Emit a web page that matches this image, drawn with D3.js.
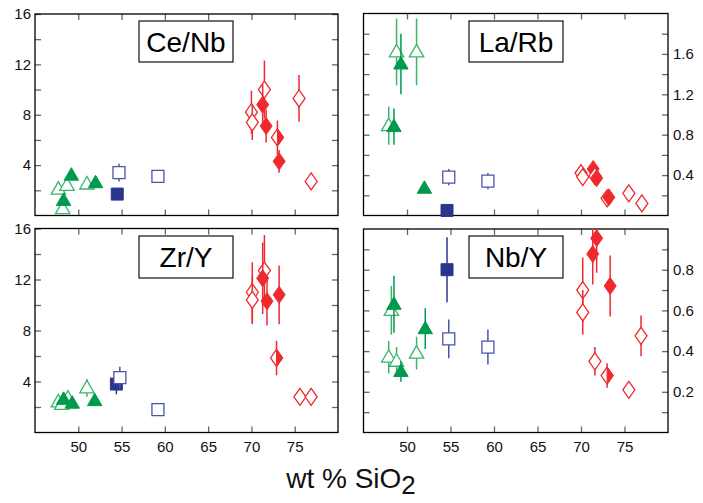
<!DOCTYPE html>
<html><head><meta charset="utf-8">
<script src="https://cdn.jsdelivr.net/npm/d3@7"></script>
<style>
html,body{margin:0;padding:0;background:#fff;}
svg{display:block;font-family:"Liberation Sans",Arial,sans-serif;}
</style></head>
<body>
<svg id="c" width="703" height="503"></svg>
<script>
// ---- data: [marker, SiO2 wt%, ratio, error(±)] ----
const xTicks = [50, 55, 60, 65, 70, 75];
const xLabel = "wt % SiO";

const ceNbTicksMajor = [4, 8, 12, 16];
const ceNbTicksMinor = [2, 6, 10, 14];
const ceNbData = [
  ["triOpen", 47.7, 2.1, 0], ["triOpen", 48.7, 2.4, 0], ["triOpen", 51.0, 2.5, 0], ["triOpen", 48.2, 0.55, 0],
  ["triFill", 49.2, 3.2, 0], ["triFill", 52.0, 2.6, 0], ["triFill", 48.3, 1.2, 0],
  ["sqOpen", 54.7, 3.4, 0.7], ["sqOpen", 59.2, 3.1, 0.5], ["sqFill", 54.5, 1.7, 0],
  ["diaOpen", 70.0, 8.2, 1.7], ["diaOpen", 70.1, 7.4, 1.4], ["diaOpen", 71.5, 10.0, 2.3],
  ["diaOpen", 75.5, 9.3, 1.85], ["diaOpen", 76.9, 2.7, 0],
  ["diaFill", 71.3, 8.8, 1.6], ["diaFill", 71.7, 7.1, 1.3], ["diaFill", 73.2, 4.3, 0.9],
  ["diaHalf", 73.0, 6.2, 1.35]
];

const laRbTicksMajor = [0.4, 0.8, 1.2, 1.6];
const laRbTicksMinor = [0.2, 0.6, 1.0, 1.4, 1.8];
const laRbData = [
  ["triOpen", 48.8, 1.62, 0.33], ["triOpen", 51.1, 1.62, 0.33], ["triOpen", 47.9, 0.89, 0.19],
  ["triFill", 49.3, 1.50, 0.30], ["triFill", 48.5, 0.88, 0.18], ["triFill", 52.0, 0.27, 0],
  ["sqOpen", 54.8, 0.38, 0.08], ["sqOpen", 59.3, 0.34, 0.08], ["sqFill", 54.6, 0.05, 0],
  ["diaOpen", 70.0, 0.42, 0], ["diaOpen", 70.2, 0.38, 0], ["diaFill", 71.4, 0.46, 0],
  ["diaOpen", 71.6, 0.39, 0], ["diaFill", 71.8, 0.37, 0],
  ["diaOpen", 73.0, 0.17, 0], ["diaFill", 73.2, 0.18, 0],
  ["diaOpen", 75.5, 0.22, 0], ["diaOpen", 77.0, 0.12, 0]
];

const zrYTicksMajor = [4, 8, 12, 16];
const zrYTicksMinor = [2, 6, 10, 14];
const zrYData = [
  ["triOpen", 47.7, 2.4, 0], ["triOpen", 48.8, 2.7, 0], ["triOpen", 48.1, 2.2, 0], ["triOpen", 51.0, 3.5, 0.7],
  ["triFill", 48.3, 2.6, 0], ["triFill", 49.3, 2.3, 0], ["triFill", 51.9, 2.5, 0],
  ["sqFill", 54.4, 3.8, 0.8], ["sqOpen", 54.8, 4.3, 0.85], ["sqOpen", 59.2, 1.8, 0],
  ["diaOpen", 70.1, 11.0, 2.35], ["diaOpen", 70.1, 10.4, 1.9], ["diaOpen", 71.5, 12.7, 2.8],
  ["diaOpen", 75.6, 2.8, 0], ["diaOpen", 76.9, 2.8, 0],
  ["diaFill", 71.3, 12.1, 2.8], ["diaFill", 71.8, 10.3, 1.9], ["diaFill", 73.2, 10.8, 2.3],
  ["diaHalf", 72.9, 5.85, 1.35]
];

const nbYTicksMajor = [0.2, 0.4, 0.6, 0.8];
const nbYTicksMinor = [0.1, 0.3, 0.5, 0.7, 0.9];
const nbYData = [
  ["triOpen", 48.2, 0.60, 0.12], ["triOpen", 47.9, 0.37, 0.08], ["triOpen", 48.8, 0.35, 0.07], ["triOpen", 51.1, 0.39, 0.08],
  ["triFill", 48.5, 0.63, 0.14], ["triFill", 49.3, 0.30, 0.05], ["triFill", 52.1, 0.51, 0.10],
  ["sqFill", 54.6, 0.80, 0.16], ["sqOpen", 54.8, 0.46, 0.095], ["sqOpen", 59.3, 0.42, 0.086],
  ["diaOpen", 70.2, 0.70, 0.16], ["diaOpen", 70.2, 0.59, 0.11], ["diaOpen", 71.6, 0.35, 0.07],
  ["diaOpen", 75.5, 0.21, 0], ["diaOpen", 76.9, 0.475, 0.10],
  ["diaFill", 71.8, 0.955, 0.17], ["diaFill", 71.35, 0.877, 0.15], ["diaFill", 73.35, 0.72, 0.15],
  ["diaHalf", 73.0, 0.28, 0.06]
];

// ---- styles ----
const COL = {
  triOpen: "#3cb46e", triFill: "#009a4e",
  sqOpen: "#4a55a8", sqFill: "#2b3590",
  diaOpen: "#ee2a2e", diaFill: "#ee2a2e", diaHalf: "#ee2a2e"
};
const SHAPE = {
  tri: "M0,-7.5L7.2,5L-7.2,5Z",
  sq: "M-6,-6H6V6H-6Z",
  dia: "M0,-8.5L6,0L0,8.5L-6,0Z",
  diaRight: "M0,-8.5L6,0L0,8.5Z"
};

const svg = d3.select("#c");

const panels = [
  {title: "Ce/Nb", data: ceNbData, yDom: [0, 16], maj: ceNbTicksMajor, min: ceNbTicksMinor,
   left: 35, right: 338, top: 14, bottom: 215.5, side: "left", xlab: false, fmt: d3.format("d"),
   box: [139, 21, 94, 41]},
  {title: "La/Rb", data: laRbData, yDom: [0, 2], maj: laRbTicksMajor, min: laRbTicksMinor,
   left: 363.5, right: 668, top: 13.5, bottom: 215.5, side: "right", xlab: false, fmt: d3.format(".1f"),
   box: [469, 21, 94, 41]},
  {title: "Zr/Y", data: zrYData, yDom: [0, 16], maj: zrYTicksMajor, min: zrYTicksMinor,
   left: 35, right: 338, top: 228.5, bottom: 432.5, side: "left", xlab: true, fmt: d3.format("d"),
   box: [139, 236, 94, 42]},
  {title: "Nb/Y", data: nbYData, yDom: [0, 1], maj: nbYTicksMajor, min: nbYTicksMinor,
   left: 363.5, right: 668, top: 229, bottom: 432.5, side: "right", xlab: true, fmt: d3.format(".1f"),
   box: [469, 236, 94, 42]}
];

const tickCol = "#666";

panels.forEach((p, i) => {
  const x = d3.scaleLinear().domain([45, 80]).range([p.left, p.right]);
  const y = d3.scaleLinear().domain(p.yDom).range([p.bottom, p.top]);
  const g = svg.append("g");

  const cid = "clip" + i;
  svg.append("clipPath").attr("id", cid).append("rect")
    .attr("x", p.left).attr("y", p.top).attr("width", p.right - p.left).attr("height", p.bottom - p.top);

  const allY = p.maj.concat(p.min).sort(d3.ascending);
  const styleAxis = a => {
    a.select(".domain").remove();
    a.selectAll(".tick line").attr("stroke", tickCol).attr("stroke-width", 1.3);
    a.selectAll(".tick text").attr("fill", "#111").style("font-size", "15px")
      .style("font-family", '"Liberation Sans",Arial,sans-serif');
  };

  const yl = g.append("g").attr("transform", `translate(${p.left},0)`)
    .call(d3.axisLeft(y).tickValues(allY).tickSize(-6).tickPadding(4)
      .tickFormat(d => (p.side === "left" && p.maj.includes(d)) ? p.fmt(d) : ""));
  styleAxis(yl);
  const yr = g.append("g").attr("transform", `translate(${p.right},0)`)
    .call(d3.axisRight(y).tickValues(allY).tickSize(-6).tickPadding(5)
      .tickFormat(d => (p.side === "right" && p.maj.includes(d)) ? p.fmt(d) : ""));
  styleAxis(yr);

  const xt = g.append("g").attr("transform", `translate(0,${p.top})`)
    .call(d3.axisTop(x).tickValues(xTicks).tickSize(-6).tickFormat(""));
  styleAxis(xt);
  const xb = g.append("g").attr("transform", `translate(0,${p.bottom})`)
    .call(d3.axisBottom(x).tickValues(xTicks).tickSize(-6).tickPadding(9)
      .tickFormat(d => p.xlab ? d3.format("d")(d) : ""));
  styleAxis(xb);

  g.append("rect").attr("x", p.left).attr("y", p.top)
    .attr("width", p.right - p.left).attr("height", p.bottom - p.top)
    .attr("fill", "none").attr("stroke", "#000").attr("stroke-width", 1.3);

  g.append("rect").attr("x", p.box[0]).attr("y", p.box[1]).attr("width", p.box[2]).attr("height", p.box[3])
    .attr("fill", "#fff").attr("stroke", "#111").attr("stroke-width", 1.2);
  g.append("text").attr("x", p.box[0] + p.box[2] / 2).attr("y", p.box[1] + p.box[3] / 2 + 10)
    .attr("text-anchor", "middle").style("font-size", "28px").attr("fill", "#000").text(p.title);

  const pts = g.append("g");
  p.data.forEach(d => {
    const [m, xv, yv, e] = d;
    const cx = x(xv), cy = y(yv);
    const col = COL[m];
    if (e > 0) {
      pts.append("line").attr("clip-path", `url(#${cid})`)
        .attr("x1", cx).attr("x2", cx).attr("y1", y(yv - e)).attr("y2", y(yv + e))
        .attr("stroke", col).attr("stroke-width", 1.5);
    }
    const filled = m.endsWith("Fill");
    const base = m.startsWith("tri") ? SHAPE.tri : m.startsWith("sq") ? SHAPE.sq : SHAPE.dia;
    pts.append("path").attr("d", base).attr("transform", `translate(${cx},${cy})`)
      .attr("fill", filled ? col : "#fff").attr("stroke", col).attr("stroke-width", filled ? 1 : 1.3);
    if (m === "diaHalf") {
      pts.append("path").attr("d", SHAPE.diaRight).attr("transform", `translate(${cx},${cy})`)
        .attr("fill", col).attr("stroke", col).attr("stroke-width", 1);
    }
  });
});

const t = svg.append("text").attr("x", 351).attr("y", 488).attr("text-anchor", "middle")
  .style("font-size", "28px").attr("fill", "#111");
t.append("tspan").text(xLabel);
t.append("tspan").attr("dy", 6).style("font-size", "26px").text("2");
</script>
</body></html>
